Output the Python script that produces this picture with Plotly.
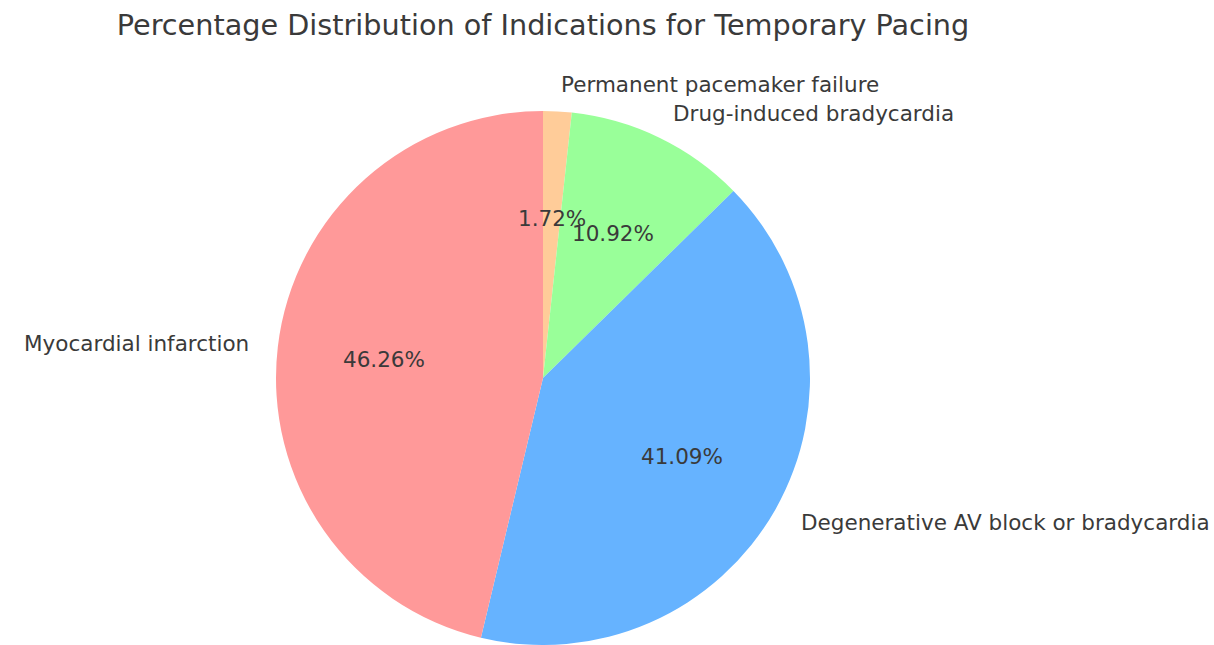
import math
import plotly.graph_objects as go

labels = ["Myocardial infarction", "Degenerative AV block or bradycardia",
          "Drug-induced bradycardia", "Permanent pacemaker failure"]
values = [46.26, 41.09, 10.92, 1.72]
colors = ["#ff9999", "#66b3ff", "#99ff99", "#ffcc99"]
title = "Percentage Distribution of Indications for Temporary Pacing"

W, H = 1214, 645
cx, cy, r = 543, 378, 267  # pie centre / radius in pixels
font_family = "DejaVu Sans"
txt_color = "#3a3a3a"

# plotly draws clockwise from 12 o'clock; matplotlib order is counterclockwise
fig = go.Figure(go.Pie(
    labels=labels[::-1], values=values[::-1], sort=False, direction="clockwise",
    rotation=0, marker=dict(colors=colors[::-1], line=dict(width=0)),
    textinfo="none", hoverinfo="label+percent",
    domain=dict(x=[(cx - r) / W, (cx + r) / W],
                y=[max(0, (H - cy - r) / H), (H - cy + r) / H]),
    showlegend=False,
))

total = sum(values)
start = 90.0
annotations = []
for lab, v in zip(labels, values):
    span = 360.0 * v / total
    mid = math.radians(start + span / 2)
    start += span
    c, s = math.cos(mid), math.sin(mid)
    px, py = cx + 0.6 * r * c, cy - 0.6 * r * s
    annotations.append(dict(x=px / W, y=1 - py / H, xref="paper", yref="paper",
                            text=f"{100 * v / total:.2f}%", showarrow=False,
                            xanchor="center", yanchor="middle",
                            font=dict(size=21.5, color=txt_color, family=font_family)))
    lx, ly = cx + 1.1 * r * c, cy - 1.1 * r * s
    annotations.append(dict(x=lx / W, y=1 - ly / H, xref="paper", yref="paper",
                            text=lab, showarrow=False,
                            xanchor="left" if c > 0 else "right", yanchor="middle",
                            font=dict(size=21.5, color=txt_color, family=font_family)))

fig.update_layout(
    width=W, height=H, margin=dict(l=0, r=0, t=0, b=0),
    paper_bgcolor="white", plot_bgcolor="white",
    title=dict(text=title, x=cx / W, xanchor="center", y=1 - 25 / H, yanchor="middle",
               font=dict(size=28.7, color=txt_color, family=font_family)),
    annotations=annotations,
)
fig.write_html(
    "out.html",
    config={"displayModeBar": False},
    post_script="document.body.style.margin='0';document.body.style.overflow='hidden';",
)
